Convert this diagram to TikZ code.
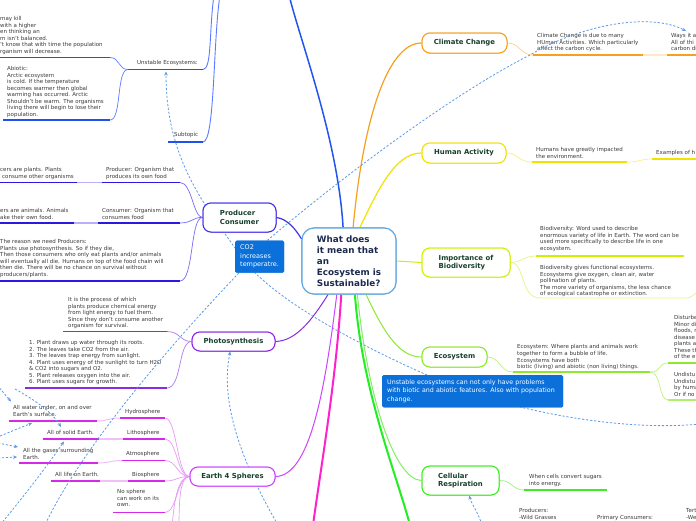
\documentclass[tikz,border=0pt]{standalone}
\usepackage{fontspec}
\setmainfont{DejaVu Sans}
\usetikzlibrary{arrows.meta}
\definecolor{tgray}{HTML}{3A3A3A}
\definecolor{tgreen}{HTML}{17402B}
\definecolor{cnavy}{HTML}{1B2A4E}
\definecolor{cborder}{HTML}{62A8E0}
\definecolor{dblue}{HTML}{5A9AE6}
\definecolor{bbox}{HTML}{0B70DA}
\definecolor{blA}{HTML}{2255EE}
\definecolor{blB}{HTML}{5B7CFF}
\definecolor{blU}{HTML}{2050F0}
\definecolor{orA}{HTML}{F5A020}
\definecolor{orB}{HTML}{FFD08A}
\definecolor{orC}{HTML}{FDE8C8}
\definecolor{yeA}{HTML}{F2E200}
\definecolor{yeB}{HTML}{FBEF80}
\definecolor{ygA}{HTML}{D0F000}
\definecolor{ygB}{HTML}{E5F580}
\definecolor{lgA}{HTML}{8FE830}
\definecolor{lgB}{HTML}{C0F080}
\definecolor{grA}{HTML}{44E82A}
\definecolor{grB}{HTML}{A0F080}
\definecolor{grT}{HTML}{22EE22}
\definecolor{mgT}{HTML}{FF22CC}
\definecolor{mgA}{HTML}{D42AE8}
\definecolor{mgB}{HTML}{E89AF5}
\definecolor{mgC}{HTML}{F2C0F8}
\definecolor{mgE}{HTML}{CC44FF}
\definecolor{puA}{HTML}{8A2BE2}
\definecolor{puB}{HTML}{B07AF5}
\definecolor{pvA}{HTML}{2A1AE0}
\definecolor{pvB}{HTML}{7A6AF5}
\definecolor{pvC}{HTML}{B8B0F8}
\definecolor{pvL}{HTML}{4433EE}
\tikzset{
 txt/.style={anchor=north west,inner sep=0pt,align=left,text=tgray,font=\fontsize{5.5}{6.5}\selectfont},
 topic/.style={draw,fill=white,rounded corners=8pt,line width=1pt,align=left,inner sep=0pt,text=tgreen,font=\bfseries\fontsize{6.9}{8.5}\selectfont},
 central/.style={draw=cborder,fill=white,rounded corners=12pt,line width=1.1pt,minimum width=94pt,minimum height=66pt,inner sep=0pt,align=left,text=cnavy,font=\bfseries\fontsize{8.8}{11}\selectfont},
 ul/.style={line width=1.5pt},
 br/.style={line width=0.7pt},
 dconn/.style={draw=dblue,line width=0.8pt,dash pattern=on 2.2pt off 1.8pt,-{Stealth[length=4pt,width=3.5pt]}},
 dline/.style={draw=dblue,line width=0.8pt,dash pattern=on 2.2pt off 1.8pt},
 bluebox/.style={fill=bbox,text=white,rounded corners=1.5pt,anchor=north west,align=left},
 cobox/.style={bluebox,font=\fontsize{6.5}{8.5}\selectfont,inner xsep=5pt,inner ysep=3.5pt,text width=39pt,minimum height=32pt},
 unbox/.style={bluebox,font=\fontsize{6.3}{8.5}\selectfont,inner xsep=5pt,inner ysep=4.5pt,text width=171pt,minimum height=32pt}
}
\begin{document}
\begin{tikzpicture}[x=1pt,y=-1pt]
\useasboundingbox (0,0) rectangle (696,520);
\fill[white] (0,0) rectangle (696,520);
\clip (0,0) rectangle (696,520);

% ---------- node geometry (redrawn on top at the end) ----------
\node[central] (c) at (349,261) {What does\\it mean that\\an\\Ecosystem is\\Sustainable?};
\node[topic,draw=orA,minimum width=85pt,minimum height=20pt] (cc) at (464.5,43) {Climate Change};
\node[topic,draw=yeA,minimum width=84pt,minimum height=20pt] (ha) at (464,153) {Human Activity};
\node[topic,draw=ygA,minimum width=88pt,minimum height=29pt] (bio) at (466,262.5) {Importance of\\Biodiversity};
\node[topic,draw=lgA,minimum width=65pt,minimum height=20pt] (eco) at (454.5,357) {Ecosystem};
\node[topic,draw=grA,minimum width=77pt,minimum height=29pt] (cr) at (460.5,480.5) {Cellular\\Respiration};
\node[topic,draw=pvL,minimum width=73pt,minimum height=29pt] (pc) at (239.5,217.5) {Producer\\Consumer};
\node[topic,draw=puA,minimum width=83pt,minimum height=19pt] (ph) at (233.5,341.5) {Photosynthesis};
\node[topic,draw=mgE,minimum width=85pt,minimum height=19pt] (e4) at (232.5,476.5) {Earth 4 Spheres};

% ---------- main branches ----------
\draw[line width=1.5pt,blA] (c.100) .. controls (338,140) and (300,40) .. (289,-5);
\draw[line width=1.2pt,orA] (c.83) .. controls (362,130) and (385,43) .. (cc.west);
\draw[line width=1.2pt,yeA] (c.72) .. controls (378,190) and (395,153) .. (ha.west);
\draw[line width=1pt,ygA] (c.east) -- (bio.west);
\draw[line width=1pt,lgA] (c.-63) .. controls (385,335) and (400,357) .. (eco.west);
\draw[line width=1pt,grB!70!grA] (c.-76) .. controls (368,400) and (395,480) .. (cr.west);
\draw[line width=2pt,grT] (c.-80) .. controls (362,390) and (395,470) .. (410,525);
\draw[line width=2pt,mgT] (c.-103) .. controls (336,380) and (322,460) .. (313,525);
\draw[line width=1pt,mgE] (c.-110) .. controls (325,390) and (310,476) .. (e4.east);
\draw[line width=1pt,puA] (c.-122) .. controls (312,320) and (296,341) .. (ph.east);
\draw[line width=1.2pt,pvL] (c.155) .. controls (296,230) and (288,219) .. (pc.east);

% ---------- Climate Change ----------
\draw[br,orB] (cc.east) .. controls (520,43) and (520,55) .. (533,55);
\draw[ul,orA] (533,55) -- (643,55);
\draw[ul,orC] (643,55) -- (667,55);
\draw[ul,orA] (667,55) -- (700,55);
\node[txt] (cc1) at (537,33.4) {Climate Change is due to many\\HUman Activities. Which particularly\\affect the carbon cycle.};
\node[txt] (ways) at (671,33.4) {Ways it a\\All of thi\\carbon di};

% ---------- Human Activity ----------
\draw[br,yeB] (ha.east) .. controls (518,153) and (518,162) .. (532,162);
\draw[ul,yeA] (532,162) -- (627,162);
\draw[br,yeB] (627,162) .. controls (640,162) and (640,159) .. (652,159);
\draw[ul,yeA] (652,159) -- (700,159);
\node[txt] (ha1) at (536,147.4) {Humans have greatly impacted\\the environment.};
\node[txt] (ha2) at (656,150.4) {Examples of h};

% ---------- Biodiversity ----------
\draw[br,ygB] (bio.east) .. controls (523,262) and (523,256) .. (536,256);
\draw[ul,ygA] (536,256) -- (684,256);
\draw[br,ygB] (bio.east) .. controls (525,262) and (520,298) .. (540,298) -- (686,298) .. controls (692,298) and (694,294) .. (700,290);
\node[txt] (bio1) at (540,226.6) {Biodiversity: Word used to describe\\enormous variety of life in Earth. The word can be\\used more specifically to describe life in one\\ecosystem.};
\node[txt] (bio2) at (540,265.4) {Biodiversity gives functional ecosystems.\\Ecosystems give oxygen, clean air, water\\pollination of plants.\\The more variety of organisms, the less chance\\of ecological catastrophe or extinction.};

% ---------- Ecosystem ----------
\draw[br,lgB] (eco.east) .. controls (500,357) and (500,372) .. (513,372);
\draw[ul,lgA] (513,372) -- (650,372);
\draw[br,lgB] (650,372) .. controls (662,372) and (658,363) .. (668,363);
\draw[ul,lgA] (668,363) -- (700,363);
\draw[br,lgB] (650,372) .. controls (662,372) and (658,400) .. (668,400);
\draw[ul,lgA!70] (668,400) -- (700,400);
\node[txt] (eco1) at (517,344.4) {Ecosystem: Where plants and animals work\\together to form a bubble of life.\\[0.3pt]Ecosystems have both\\biotic (living) and abiotic (non living) things.};
\node[txt] (dist) at (674,315.4) {Disturbe\\Minor di\\floods, r\\disease\\plants a\\These th\\of the e};
\node[txt] (undist) at (674,372.4) {Undistu\\Undistu\\by huma\\Or if no};

% ---------- Cellular Respiration ----------
\draw[br,grB] (cr.east) .. controls (512,480) and (512,490) .. (524,490);
\draw[ul,grA] (524,490) -- (607,490);
\node[txt] (cr1) at (529,474.4) {When cells convert sugars\\into energy.};
\node[txt] (prod) at (519,508.4) {Producers:\\-Wild Grasses};
\node[txt] (prim) at (597,515.4) {Primary Consumers:};
\node[txt] (tert) at (686,508.4) {Terti\\-We};

% ---------- Unstable Ecosystems (top left) ----------
\draw[line width=0.9pt,blB] (203,69.5) .. controls (212,69.5) and (209,30) .. (214,-5);
\draw[line width=0.9pt,blB] (203,142) .. controls (215,142) and (213,40) .. (220,-5);
\draw[ul,blU] (128,69.5) -- (203,69.5);
\draw[br,blB] (128,69.5) .. controls (118,69.5) and (120,57.5) .. (110,57.5);
\draw[ul,blU] (0,57.5) -- (110,57.5);
\draw[br,blB] (128,69.5) .. controls (116,69.5) and (122,120) .. (110,120);
\draw[ul,blU] (3,120) -- (110,120);
\draw[ul,blU] (168,142) -- (203,142);
\node[txt] (unst) at (137,60.4) {Unstable Ecosystems:};
\node[txt] (subt) at (174,132.4) {Subtopic};
\node[txt] (tl1) at (0,16.4) {may kill\\with a higher\\en thinking an\\m isn't balanced.\\'t know that with time the population\\rganism will decrease.};
\node[txt] (abio) at (7,66.4) {Abiotic:\\Arctic ecosystem\\is cold. If the temperature\\becomes warmer then global\\warming has occurred. Arctic\\Shouldn't be warm. The organisms\\living there will begin to lose their\\population.};

% ---------- Producer Consumer ----------
\draw[br,pvB] (pc.west) .. controls (193,217) and (192,182.5) .. (180,182.5);
\draw[ul,pvA] (102,182.5) -- (180,182.5);
\draw[ul,pvC] (77,182.5) -- (102,182.5);
\draw[ul,pvA] (0,182.5) -- (77,182.5);
\draw[br,pvB] (pc.west) .. controls (193,217) and (192,223) .. (180,223);
\draw[ul,pvA] (98,223) -- (180,223);
\draw[ul,pvC] (74,223) -- (98,223);
\draw[ul,pvA] (0,223) -- (74,223);
\draw[br,pvB] (pc.west) .. controls (190,217) and (194,281) .. (180,281);
\draw[ul,pvA] (0,281) -- (180,281);
\node[txt] (pr1) at (106,167.4) {Producer: Organism that\\produces its own food};
\node[txt] (pr0) at (0,167.4) {cers are plants. Plants\\\hspace*{2pt}consume other organisms};
\node[txt] (co1) at (102,208.4) {Consumer: Organism that\\consumes food};
\node[txt] (co0) at (0,208.4) {ers are animals. Animals\\ake their own food.};
\node[txt] (reason) at (0,239.4) {The reason we need Producers:\\Plants use photosynthesis. So if they die,\\Then those consumers who only eat plants and/or animals\\will eventually all die. Humans on top of the food chain will\\then die. There will be no chance on survival without\\producers/plants.};

% ---------- Photosynthesis ----------
\draw[br,puB] (ph.west) .. controls (180,341.5) and (180,331.5) .. (167,331.5);
\draw[ul,puA] (63,331.5) -- (167,331.5);
\draw[br,puB] (ph.west) .. controls (178,341.5) and (182,388) .. (167,388);
\draw[ul,puA] (25,388) -- (167,388);
\node[txt] (ph1) at (68,297.4) {It is the process of which\\plants produce chemical energy\\from light energy to fuel them.\\Since they don't consume another\\organism for survival.};
\node[txt] (ph2) at (29,340.4) {1. Plant draws up water through its roots.\\2. The leaves take CO2 from the air.\\3. The leaves trap energy from sunlight.\\4. Plant uses energy of the sunlight to turn H2O\\\& CO2 into sugars and O2.\\5. Plant releases oxygen into the air.\\6. Plant uses sugars for growth.};

% ---------- Earth 4 Spheres ----------
\foreach \yy in {418,439,460.5,481,512.5}{
  \draw[br,mgB] (e4.west) .. controls (177,476.5) and (177,\yy) .. (165,\yy);
}
\draw[br,mgB] (e4.west) .. controls (178,476.5) and (174,500) .. (172,528);
\draw[br,mgB] (e4.west) .. controls (180,476.5) and (179,500) .. (179,528);
\draw[ul,mgA] (120,418) -- (165,418);
\draw[br,mgC,line width=1pt] (120,418) .. controls (108,418) and (108,421) .. (97,421);
\draw[ul,mgA] (9,421) -- (97,421);
\draw[ul,mgA] (123,439) -- (165,439);
\draw[ul,mgC] (99,439) -- (123,439);
\draw[ul,mgA] (43,439) -- (99,439);
\draw[ul,mgA] (122,460.5) -- (165,460.5);
\draw[br,mgC,line width=1pt] (122,460.5) .. controls (110,460.5) and (110,463) .. (98,463);
\draw[ul,mgA] (19,463) -- (98,463);
\draw[ul,mgA] (128,481) -- (165,481);
\draw[ul,mgC] (100,481) -- (128,481);
\draw[ul,mgA] (51,481) -- (100,481);
\draw[ul,mgA] (113,512.5) -- (165,512.5);
\node[txt] (hydro) at (125,409.4) {Hydrosphere};
\node[txt] (litho) at (127,430.4) {Lithosphere};
\node[txt] (atmo) at (126,451.4) {Atmosphere};
\node[txt] (bios) at (132,472.4) {Biosphere};
\node[txt] (water) at (13,405.4) {All water under, on and over\\Earth's surface.};
\node[txt] (solid) at (47,430.4) {All of solid Earth.};
\node[txt] (gases) at (23,448.4) {All the gases surrounding\\Earth.};
\node[txt] (life) at (55,472.4) {All life on Earth.};
\node[txt] (nosph) at (117,489.4) {No sphere\\can work on its\\own.};

% ---------- floating blue boxes (geometry) ----------
\node[cobox] (co2) at (235,240.5) {CO2\\increases\\temperatre.};
\node[unbox] (ub) at (382,375) {Unstable ecosystems can not only have problems\\with biotic and abiotic features. Also with population\\change.};

% ---------- dashed connectors ----------
\coordinate (waysArrow) at (686,31);
\coordinate (ueArrow) at (166,71.5);
\coordinate (bStart) at (700,424);
\coordinate (cEnd) at (45,525);
\coordinate (dStart) at (278,525);
\coordinate (eStart) at (482,525);
\draw[dconn] (co2.65) .. controls (350,170) and (460,90) .. (530,55) .. controls (580,25) and (650,12) .. (waysArrow);
\draw[dconn] (bStart) .. controls (620,432) and (500,410) .. (427,375) .. controls (370,350) and (270,300) .. (240,255) .. controls (205,205) and (166,160) .. (ueArrow);
\draw[dline] (co2.218) .. controls (170,345) and (80,450) .. (cEnd);
\draw[dconn] (dStart) .. controls (240,460) and (220,400) .. (ph.252);
\draw[dconn] (eStart) .. controls (478,512) and (472,505) .. (cr.300);
\coordinate (f1) at (-3,385);
\coordinate (f1e) at (11,401.5);
\coordinate (f2) at (0,436);
\coordinate (f2e) at (32,423);
\coordinate (f3) at (15,389);
\coordinate (f3e) at (61,427);
\coordinate (f4) at (-2,443);
\coordinate (f4e) at (18,447);
\coordinate (f5) at (-2,458);
\coordinate (f5e) at (17,457);
\coordinate (f6) at (0,525);
\coordinate (f6e) at (64,441.5);
\draw[dconn] (f1) -- (f1e);
\draw[dconn] (f2) -- (f2e);
\draw[dconn] (f3) .. controls (35,400) and (52,412) .. (f3e);
\draw[dconn] (f4) -- (f4e);
\draw[dconn] (f5) -- (f5e);
\draw[dconn] (f6) .. controls (25,495) and (50,462) .. (f6e);

% ---------- redraw boxes on top ----------
\node[cobox] at (235,240.5) {CO2\\increases\\temperatre.};
\node[unbox] at (382,375) {Unstable ecosystems can not only have problems\\with biotic and abiotic features. Also with population\\change.};
\node[central] at (349,261) {What does\\it mean that\\an\\Ecosystem is\\Sustainable?};
\node[topic,draw=orA,minimum width=85pt,minimum height=20pt] at (464.5,43) {Climate Change};
\node[topic,draw=yeA,minimum width=84pt,minimum height=20pt] at (464,153) {Human Activity};
\node[topic,draw=ygA,minimum width=88pt,minimum height=29pt] at (466,262.5) {Importance of\\Biodiversity};
\node[topic,draw=lgA,minimum width=65pt,minimum height=20pt] at (454.5,357) {Ecosystem};
\node[topic,draw=grA,minimum width=77pt,minimum height=29pt] at (460.5,480.5) {Cellular\\Respiration};
\node[topic,draw=pvL,minimum width=73pt,minimum height=29pt] at (239.5,217.5) {Producer\\Consumer};
\node[topic,draw=puA,minimum width=83pt,minimum height=19pt] at (233.5,341.5) {Photosynthesis};
\node[topic,draw=mgE,minimum width=85pt,minimum height=19pt] at (232.5,476.5) {Earth 4 Spheres};
\end{tikzpicture}
\end{document}
